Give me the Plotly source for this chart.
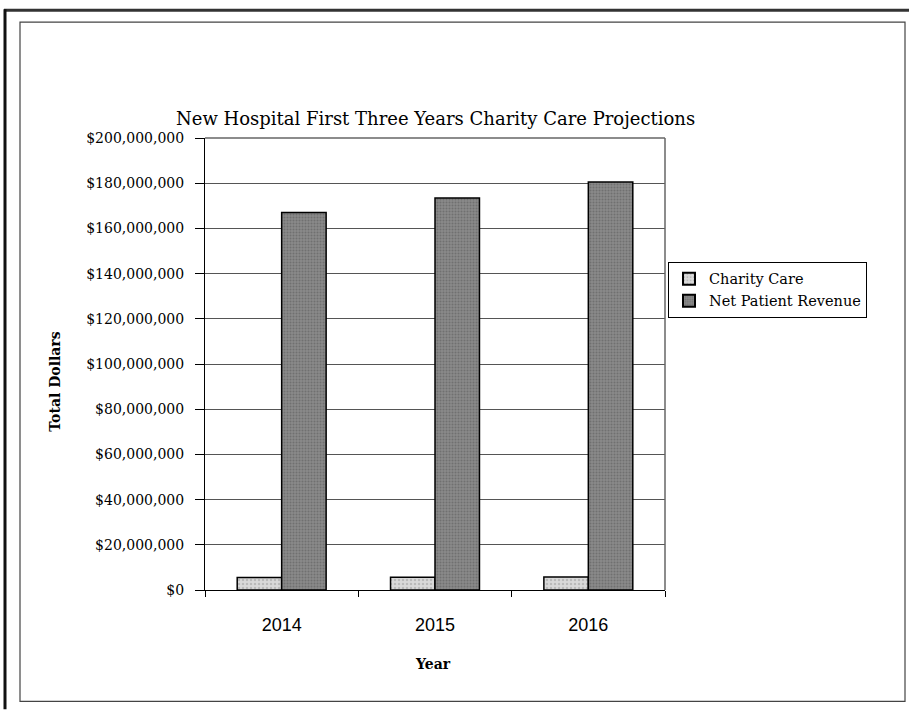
import plotly.graph_objects as go

years = ["2014", "2015", "2016"]
charity_care = [5_500_000, 5_600_000, 5_800_000]
net_patient_revenue = [167_000_000, 173_500_000, 180_500_000]
y_ticks = list(range(0, 200_000_001, 20_000_000))
y_tick_labels = ["$0"] + [f"${v:,}" for v in y_ticks[1:]]

serif = "DejaVu Serif, serif"

L, R, T, B = 205, 665, 138, 590.5
W, H = 909, 710
def px(x):
    return (x - L) / (R - L)
def py(y):
    return (B - y) / (B - T)

fig = go.Figure()
fig.add_trace(go.Bar(
    name="Charity Care", x=years, y=charity_care,
    marker=dict(color="#d9d9d9", line=dict(color="black", width=1.5),
                pattern=dict(shape=".", fgcolor="#9a9a9a", size=4, solidity=0.3)),
))
fig.add_trace(go.Bar(
    name="Net Patient Revenue", x=years, y=net_patient_revenue,
    marker=dict(color="#8a8a8a", line=dict(color="black", width=1.5),
                pattern=dict(shape=".", fgcolor="#555555", size=3, solidity=0.4)),
))

fig.update_layout(
    width=W, height=H,
    margin=dict(l=L, r=W - R, t=T, b=H - B, pad=0),
    paper_bgcolor="white", plot_bgcolor="white",
    barmode="group", bargap=0.42, bargroupgap=0,
    showlegend=True,
    legend=dict(x=px(668), y=py(262), xanchor="left", yanchor="top",
                bordercolor="black", borderwidth=1, bgcolor="white",
                font=dict(family=serif, size=14.5, color="black"),
                itemsizing="constant", tracegroupgap=2, itemwidth=30),
    xaxis=dict(type="category", showline=True, linecolor="black", linewidth=1,
               ticks="outside", tickson="boundaries", ticklen=6, tickcolor="black",
               ticklabelstandoff=18,
               tickfont=dict(family="Liberation Sans, Arial, sans-serif", size=18, color="black"),
               showgrid=False, mirror=False),
    yaxis=dict(range=[0, 200_000_000], tickvals=y_ticks, ticktext=y_tick_labels,
               showline=True, linecolor="black", linewidth=1, mirror=False,
               ticks="outside", ticklen=9, tickcolor="black",
               ticklabelstandoff=8,
               tickfont=dict(family=serif, size=14, color="black"),
               showgrid=True, gridcolor="#555555", gridwidth=1, zeroline=False),
    annotations=[
        dict(text="New Hospital First Three Years Charity Care Projections",
             x=px(435), y=py(118), xref="paper", yref="paper", showarrow=False,
             xanchor="center", yanchor="middle",
             font=dict(family=serif, size=18, color="black")),
        dict(text="<b>Total Dollars</b>", textangle=-90,
             x=px(55), y=py(382), xref="paper", yref="paper", showarrow=False,
             xanchor="center", yanchor="middle",
             font=dict(family=serif, size=14, color="black")),
        dict(text="<b>Year</b>",
             x=px(433), y=py(665), xref="paper", yref="paper", showarrow=False,
             xanchor="center", yanchor="middle",
             font=dict(family=serif, size=14, color="black")),
    ],
    shapes=[
        dict(type="line", xref="paper", yref="paper", x0=0, x1=1, y0=1, y1=1,
             line=dict(color="#666666", width=1.5)),
        dict(type="line", xref="paper", yref="paper", x0=1, x1=1, y0=0, y1=1,
             line=dict(color="#666666", width=1.5)),
        dict(type="rect", xref="paper", yref="paper",
             x0=px(20), x1=px(905), y0=py(702), y1=py(22),
             line=dict(color="#444444", width=1.2)),
        dict(type="line", xref="paper", yref="paper",
             x0=px(4), x1=px(909), y0=py(10), y1=py(10),
             line=dict(color="#333333", width=3)),
        dict(type="line", xref="paper", yref="paper",
             x0=px(5), x1=px(5), y0=py(9), y1=py(710),
             line=dict(color="#111111", width=3)),
    ],
)

fig.write_html("out.html", config={"displayModeBar": False},
               post_script="document.body.style.margin='0';document.body.style.overflow='hidden';")
